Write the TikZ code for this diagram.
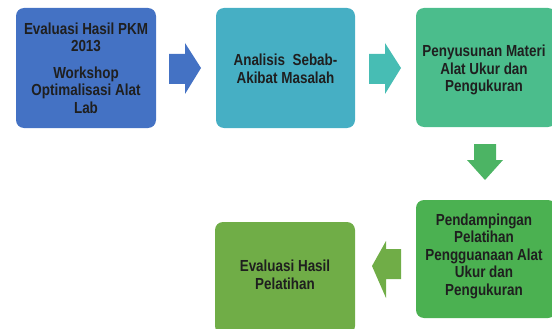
\documentclass[tikz,border=0pt]{standalone}
\usepackage{fontspec}
\setmainfont[FakeStretch=0.84]{Liberation Sans}
\begin{document}
\begin{tikzpicture}[x=1pt,y=-1pt,
  box/.style={rounded corners=8pt, inner sep=0pt, align=center, font=\fontsize{16}{17.5}\selectfont\bfseries, text=black!88}]
\useasboundingbox (0,0) rectangle (552,329);
\definecolor{cA}{HTML}{4472C4}
\definecolor{cB}{HTML}{46AFC4}
\definecolor{cBa}{HTML}{47BDB4}
\definecolor{cC}{HTML}{4BBD8C}
\definecolor{cCa}{HTML}{4CB464}
\definecolor{cD}{HTML}{4BB151}
\definecolor{cE}{HTML}{70AD47}
% boxes
\fill[cA, rounded corners=8pt] (16,8) rectangle (156,128);
\node[box] (b1) at (86,68) {Evaluasi Hasil PKM\\2013\\[9pt]Workshop\\Optimalisasi Alat\\Lab};
\fill[cB, rounded corners=8pt] (216,8) rectangle (355,128);
\node[box] (b2) at (285.5,69) {Analisis\ \ Sebab-\\Akibat Masalah};
\fill[cC, rounded corners=8pt] (416,8) rectangle (556,127);
\node[box] (b3) at (484,70) {Penyusunan\ Materi\\Alat Ukur dan\\Pengukuran};
\fill[cD, rounded corners=8pt] (416,200) rectangle (556,318);
\node[box] (b4) at (484,256) {Pendampingan\\Pelatihan\\Pengguanaan Alat\\Ukur dan\\Pengukuran};
\fill[cE, rounded corners=8pt] (215,222) rectangle (355,334);
\node[box] (b5) at (285,275) {Evaluasi Hasil\\Pelatihan};
% block arrows
\fill[cA] (169,54) -- (185,54) -- (185,43) -- (201,68) -- (185,94) -- (185,84) -- (169,84) -- cycle;
\fill[cBa] (369,54) -- (385,54) -- (385,43) -- (401,68) -- (385,94) -- (385,84) -- (369,84) -- cycle;
\fill[cCa] (474,144) -- (496,144) -- (496,160) -- (503,160) -- (485,180) -- (467,160) -- (474,160) -- cycle;
\fill[cE] (401,249) -- (386,249) -- (386,241) -- (372,266) -- (386,298) -- (386,279) -- (401,279) -- cycle;
\end{tikzpicture}
\end{document}
